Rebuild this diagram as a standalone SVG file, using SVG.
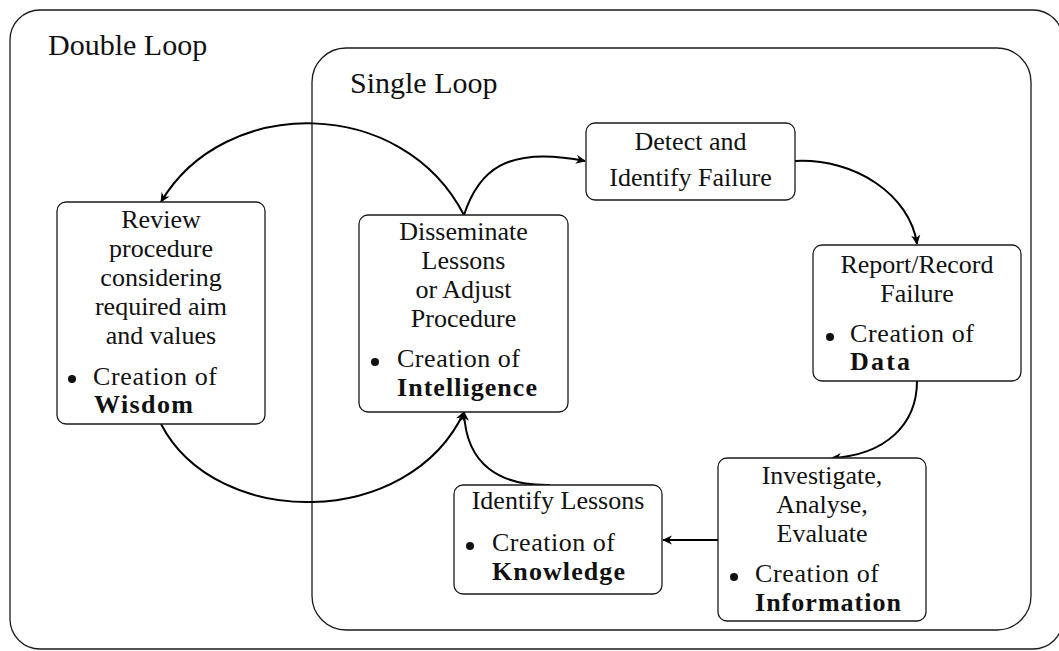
<svg xmlns="http://www.w3.org/2000/svg" width="1059" height="651" viewBox="0 0 1059 651" font-family="Liberation Serif, Tinos, DejaVu Serif, serif">
  <defs>
    <marker id="head" markerUnits="userSpaceOnUse" viewBox="-10 -6 12 12" refX="0" refY="0" markerWidth="12" markerHeight="12" orient="auto">
      <path d="M1,0 L-9,-4.6 L-6,0 L-9,4.6 Z" fill="#000"/>
    </marker>
  </defs>

  <!-- outer and inner loop frames -->
  <g id="double-loop">
    <rect x="10" y="10" width="1053" height="639" rx="30" ry="30" fill="none" stroke="#1a1a1a" stroke-width="1.3"/>
    <text x="48" y="55" font-family="Liberation Serif, Tinos, DejaVu Serif, serif" font-size="30" fill="#111">Double Loop</text>
  </g>
  <g id="single-loop">
    <rect x="312" y="48" width="719" height="582" rx="34" ry="34" fill="none" stroke="#1a1a1a" stroke-width="1.3"/>
    <text x="350" y="93" font-family="Liberation Serif, Tinos, DejaVu Serif, serif" font-size="30" fill="#111">Single Loop</text>
  </g>

  <!-- connectors -->
  <g id="connectors" fill="none" stroke="#000" stroke-width="2" marker-end="url(#head)">
    <path d="M464,215 C402,95 224,95 161,202"/>
    <path d="M464,215 C478,172 505,145 585,161"/>
    <path d="M795,161 C855,158 910,195 917,244"/>
    <path d="M917,381 C917,425 885,455 832,458"/>
    <path d="M718,540 L663,540"/>
    <path d="M550,485 C500,486 466,465 464,412"/>
    <path d="M161,424 C216,530 409,530 464,412"/>
  </g>

  <!-- nodes: box outline, centred caption, bullet line -->
  <g id="review" font-family="Liberation Serif, Tinos, DejaVu Serif, serif" font-size="26" fill="#111">
    <rect x="57" y="202" width="208" height="222" rx="9" ry="9" fill="#fff" stroke="#1a1a1a" stroke-width="1.3"/>
    <g text-anchor="middle">
      <text x="161" y="228">Review</text>
      <text x="161" y="257">procedure</text>
      <text x="161" y="286">considering</text>
      <text x="161" y="315">required aim</text>
      <text x="161" y="344">and values</text>
    </g>
    <circle cx="72" cy="379" r="4"/>
    <text x="93" y="385" textLength="124" lengthAdjust="spacing">Creation of</text>
    <text x="94" y="413" font-weight="bold" textLength="99" lengthAdjust="spacing">Wisdom</text>
  </g>

  <g id="disseminate" font-family="Liberation Serif, Tinos, DejaVu Serif, serif" font-size="26" fill="#111">
    <rect x="359" y="215" width="209" height="197" rx="9" ry="9" fill="#fff" stroke="#1a1a1a" stroke-width="1.3"/>
    <g text-anchor="middle">
      <text x="463.5" y="240">Disseminate</text>
      <text x="463.5" y="269">Lessons</text>
      <text x="463.5" y="298">or Adjust</text>
      <text x="463.5" y="327">Procedure</text>
    </g>
    <circle cx="375" cy="362" r="4"/>
    <text x="397" y="367" textLength="123" lengthAdjust="spacing">Creation of</text>
    <text x="397" y="396" font-weight="bold" textLength="140" lengthAdjust="spacing">Intelligence</text>
  </g>

  <g id="detect" font-family="Liberation Serif, Tinos, DejaVu Serif, serif" font-size="26" fill="#111">
    <rect x="586" y="123" width="209" height="77" rx="9" ry="9" fill="#fff" stroke="#1a1a1a" stroke-width="1.3"/>
    <g text-anchor="middle">
      <text x="690.5" y="150">Detect and</text>
      <text x="690.5" y="186">Identify Failure</text>
    </g>
  </g>

  <g id="report" font-family="Liberation Serif, Tinos, DejaVu Serif, serif" font-size="26" fill="#111">
    <rect x="813" y="245" width="208" height="136" rx="9" ry="9" fill="#fff" stroke="#1a1a1a" stroke-width="1.3"/>
    <g text-anchor="middle">
      <text x="917" y="273">Report/Record</text>
      <text x="917" y="302">Failure</text>
    </g>
    <circle cx="830" cy="337" r="4"/>
    <text x="850" y="342" textLength="124" lengthAdjust="spacing">Creation of</text>
    <text x="850" y="370" font-weight="bold" textLength="60" lengthAdjust="spacing">Data</text>
  </g>

  <g id="investigate" font-family="Liberation Serif, Tinos, DejaVu Serif, serif" font-size="26" fill="#111">
    <rect x="718" y="458" width="208" height="163" rx="9" ry="9" fill="#fff" stroke="#1a1a1a" stroke-width="1.3"/>
    <g text-anchor="middle">
      <text x="822" y="484">Investigate,</text>
      <text x="822" y="513">Analyse,</text>
      <text x="822" y="542">Evaluate</text>
    </g>
    <circle cx="734" cy="577" r="4"/>
    <text x="755" y="582" textLength="124" lengthAdjust="spacing">Creation of</text>
    <text x="755" y="611" font-weight="bold" textLength="146" lengthAdjust="spacing">Information</text>
  </g>

  <g id="identify" font-family="Liberation Serif, Tinos, DejaVu Serif, serif" font-size="26" fill="#111">
    <rect x="454" y="485" width="208" height="109" rx="9" ry="9" fill="#fff" stroke="#1a1a1a" stroke-width="1.3"/>
    <text x="558" y="509" text-anchor="middle">Identify Lessons</text>
    <circle cx="470" cy="546" r="4"/>
    <text x="492" y="551" textLength="123" lengthAdjust="spacing">Creation of</text>
    <text x="492" y="580" font-weight="bold" textLength="133" lengthAdjust="spacing">Knowledge</text>
  </g>
</svg>
